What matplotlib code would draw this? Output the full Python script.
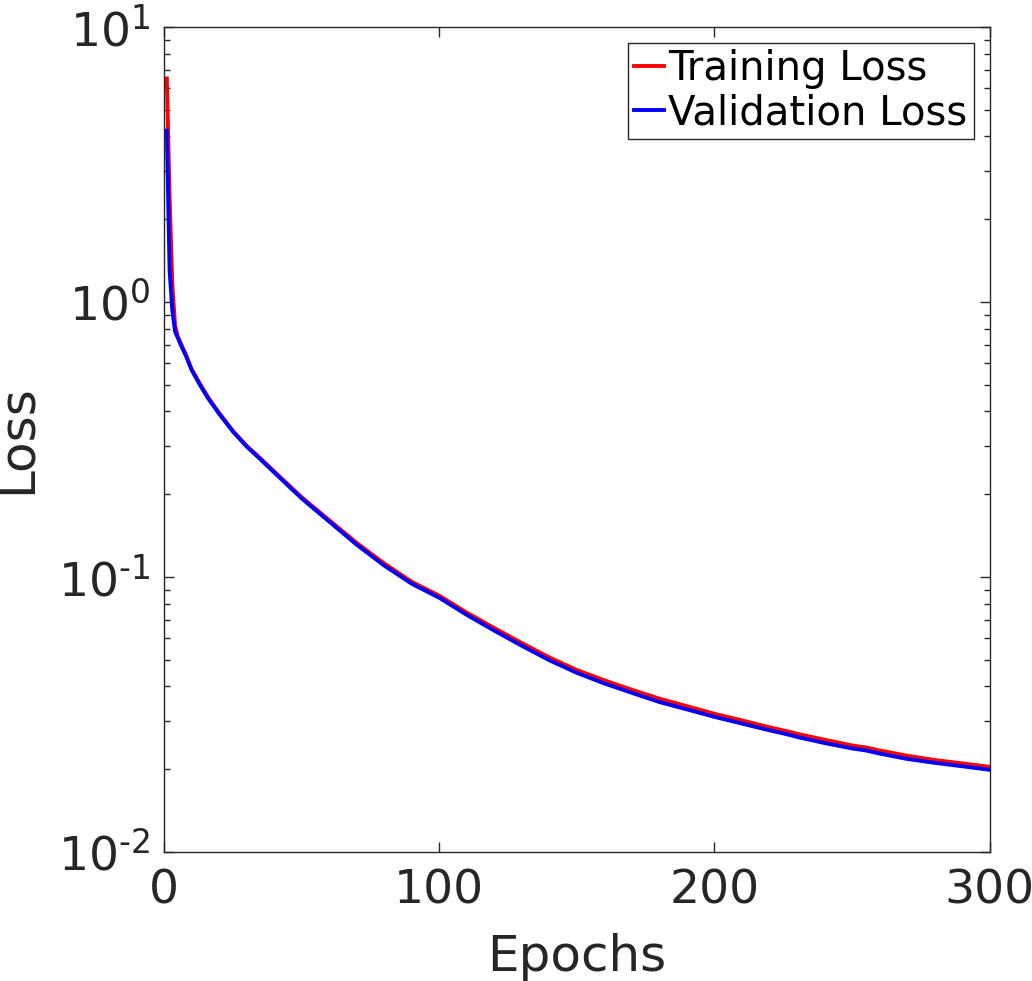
import numpy as np
import matplotlib
matplotlib.use("Agg")
import matplotlib.pyplot as plt
import matplotlib.ticker as ticker

plt.rcParams["font.family"] = ["DejaVu Sans"]
plt.rcParams["axes.unicode_minus"] = False

# 에폭 / 손실 값
epochs = [1, 2, 3, 4, 5, 6, 8, 10, 13, 16, 20, 25, 30, 35, 40, 50, 60, 70, 80,
          90, 100, 110, 120, 130, 140, 150, 160, 170, 180, 190, 200, 210, 220,
          227, 230, 240, 250, 255, 260, 270, 280, 290, 300]
train_loss = [6.5, 2.4, 1.15, 0.82, 0.75, 0.71, 0.64, 0.57, 0.505, 0.45, 0.395,
              0.34, 0.30, 0.27, 0.242, 0.195, 0.161, 0.133, 0.112, 0.096,
              0.0855, 0.0742, 0.0652, 0.0575, 0.0510, 0.0459, 0.0421, 0.0389,
              0.0361, 0.0339, 0.0318, 0.0301, 0.0284, 0.0274, 0.0269, 0.0256,
              0.0244, 0.0240, 0.0234, 0.0224, 0.0216, 0.0210, 0.0204]
val_loss = [4.2, 1.3, 0.93, 0.78, 0.74, 0.70, 0.635, 0.566, 0.50, 0.446, 0.392,
            0.338, 0.298, 0.268, 0.240, 0.193, 0.159, 0.131, 0.110, 0.0945,
            0.0840, 0.0728, 0.0638, 0.0562, 0.0498, 0.0448, 0.0410, 0.0379,
            0.0351, 0.0330, 0.0310, 0.0293, 0.0277, 0.0267, 0.0262, 0.0249,
            0.0238, 0.0234, 0.0228, 0.0218, 0.0211, 0.0205, 0.0199]

y_ticks = [1e-2, 1e-1, 1e0, 1e1]
y_ticklabels = ["$10^{\u20102}$", "$10^{\u20101}$", "$10^{0}$", "$10^{1}$"]
x_ticks = [0, 100, 200, 300]

TXT = "#262626"

fig = plt.figure(figsize=(10.32, 9.81), dpi=100)
ax = fig.add_axes([0.159, 0.1315, 0.80, 0.841])

ax.semilogy(epochs, train_loss, color="red", linewidth=2.8, label="Training Loss")
ax.semilogy(epochs, val_loss, color="blue", linewidth=2.8, label="Validation Loss")

ax.set_xlim(0, 300)
ax.set_ylim(1e-2, 1e1)
ax.xaxis.set_major_locator(ticker.FixedLocator(x_ticks))
ax.xaxis.set_minor_locator(ticker.NullLocator())
ax.set_yticks(y_ticks)
ax.set_yticklabels(y_ticklabels)

ax.tick_params(which="both", direction="in", top=True, right=True,
               colors=TXT, labelsize=34, width=1.0)
ax.tick_params(which="major", length=7)
ax.tick_params(which="minor", length=4)
ax.tick_params(axis="x", pad=12)
ax.tick_params(axis="y", pad=10)
for s in ax.spines.values():
    s.set_color(TXT)
    s.set_linewidth(1.0)

ax.set_xlabel("Epochs", fontsize=36, color=TXT, labelpad=14)
ax.set_ylabel("Loss", fontsize=36, color=TXT)
ax.yaxis.set_label_coords(-0.150, 0.5)

leg = ax.legend(loc="upper right", fontsize=29, handlelength=0.75,
                handletextpad=0.1, borderpad=0.15, labelspacing=0.1,
                fancybox=False, framealpha=1, borderaxespad=0.4)
leg.get_frame().set_edgecolor("#262626")
leg.get_frame().set_linewidth(1.0)

plt.savefig("out.png", dpi=100)
plt.close()
